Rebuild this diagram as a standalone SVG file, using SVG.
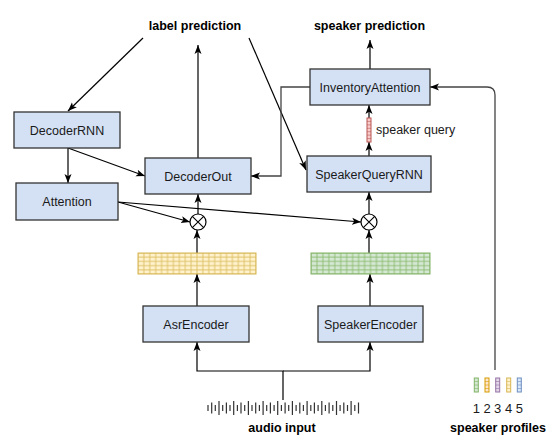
<svg xmlns="http://www.w3.org/2000/svg" width="555" height="442" viewBox="0 0 555 442">
<style>
.box{fill:#d4e1f5;stroke:#333;stroke-width:1.3}
.lbl{font-family:"Liberation Sans",Arial,sans-serif;font-size:12.5px;fill:#1a1a1a;text-anchor:middle}
.bold{font-family:"Liberation Sans",Arial,sans-serif;font-size:12.5px;font-weight:bold;fill:#000;text-anchor:middle}
.c{fill:none;stroke:#000;stroke-width:1.2}
.g{fill:none;stroke:#444;stroke-width:1.3}
.a{marker-end:url(#arr)}
.mul{fill:#fff;stroke:#000;stroke-width:1.2}
</style>
<defs>
<marker id="arr" markerUnits="userSpaceOnUse" markerWidth="10" markerHeight="8" refX="9" refY="4" orient="auto">
<path d="M0,0.5 L9,4 L0,7.5 L2.2,4 Z" fill="#000"/>
</marker>
<pattern id="py" patternUnits="userSpaceOnUse" x="138" y="253" width="5.9" height="4.2">
<rect x="0" y="0" width="5.9" height="4.2" fill="#fff2cc" stroke="#dcbf63" stroke-width="0.9"/>
</pattern>
<pattern id="pg" patternUnits="userSpaceOnUse" x="311" y="253" width="5.95" height="4.2">
<rect x="0" y="0" width="5.95" height="4.2" fill="#d5e8d4" stroke="#8cbb70" stroke-width="0.9"/>
</pattern>
</defs>
<rect width="555" height="442" fill="#fff"/>

<g id="connectors">
<line class="c a" x1="143" y1="38" x2="68" y2="111"/>
<line class="c a" x1="198" y1="158" x2="198" y2="45"/>
<line class="c a" x1="249" y1="38" x2="306" y2="170"/>
<line class="c a" x1="68" y1="148" x2="68" y2="183"/>
<line class="c a" x1="68" y1="148" x2="145" y2="176"/>
<line class="c a" x1="118" y1="202" x2="190" y2="222"/>
<line class="c a" x1="118" y1="202" x2="361" y2="222"/>
<line class="c a" x1="198" y1="214" x2="198" y2="194"/>
<line class="c a" x1="369" y1="214" x2="369" y2="192"/>
<line class="c a" x1="197" y1="253" x2="197" y2="230"/>
<line class="c a" x1="369" y1="253" x2="369" y2="230"/>
<line class="c a" x1="197" y1="306" x2="197" y2="274"/>
<line class="c a" x1="370" y1="306" x2="370" y2="274"/>
<path class="c a" d="M283 400V371H197V342"/>
<path class="c a" d="M283 371H370V342"/>
<line class="c a" x1="369" y1="156" x2="369" y2="142"/>
<line class="c a" x1="369" y1="118" x2="369" y2="105"/>
<line class="c a" x1="370" y1="69" x2="370" y2="40"/>
<path class="g a" d="M310 87H281V176H251"/>
<path class="g a" d="M495 370V95Q495 87 487 87H430"/>
</g>

<g id="label-prediction"><text class="bold" x="195" y="30">label prediction</text></g>
<g id="speaker-prediction"><text class="bold" x="369.5" y="30">speaker prediction</text></g>

<g id="DecoderRNN"><rect class="box" x="14" y="112" width="106" height="36"/><text class="lbl" x="67" y="134.5">DecoderRNN</text></g>
<g id="Attention"><rect class="box" x="16" y="183" width="102" height="37"/><text class="lbl" x="67" y="206">Attention</text></g>
<g id="DecoderOut"><rect class="box" x="145" y="158" width="106" height="36"/><text class="lbl" x="198" y="180.5">DecoderOut</text></g>
<g id="InventoryAttention"><rect class="box" x="310" y="69" width="120" height="36"/><text class="lbl" x="370" y="91.5">InventoryAttention</text></g>
<g id="SpeakerQueryRNN"><rect class="box" x="307" y="156" width="124" height="36"/><text class="lbl" x="369" y="178.5">SpeakerQueryRNN</text></g>
<g id="AsrEncoder"><rect class="box" x="143" y="306" width="106" height="36"/><text class="lbl" x="196" y="328.5">AsrEncoder</text></g>
<g id="SpeakerEncoder"><rect class="box" x="318" y="306" width="105" height="36"/><text class="lbl" x="370.5" y="328.5">SpeakerEncoder</text></g>

<g id="mul-left"><circle class="mul" cx="198" cy="222" r="8"/><path d="M192.3 216.3L203.7 227.7M203.7 216.3L192.3 227.7" stroke="#000" stroke-width="1.1"/></g>
<g id="mul-right"><circle class="mul" cx="369" cy="222" r="8"/><path d="M363.3 216.3L374.7 227.7M374.7 216.3L363.3 227.7" stroke="#000" stroke-width="1.1"/></g>

<g id="asr-features"><rect x="138" y="253" width="118" height="21" fill="url(#py)" stroke="#d6b656" stroke-width="1"/></g>
<g id="speaker-features"><rect x="311" y="253" width="119" height="21" fill="url(#pg)" stroke="#82b366" stroke-width="1"/></g>

<g id="speaker-query">
<rect x="367" y="118" width="4" height="24" fill="#f8cecc" stroke="#b85450" stroke-width="1"/>
<path d="M367 121.4h4M367 124.9h4M367 128.3h4M367 131.7h4M367 135.1h4M367 138.6h4" stroke="#b85450" stroke-width="0.6"/>
<text class="lbl" x="376" y="134" style="text-anchor:start">speaker query</text>
</g>

<g id="audio-input">
<path stroke="#333" stroke-width="1.2" fill="none" d="M208 405V411M211.7 402.5V413.5M215.3 405V411M219 401V415M222.7 405V411M226.4 402.5V413.5M230 405V411M233.7 401V415M237.4 405V411M241 402.5V413.5M244.7 405V411M248.4 401V415M252 405V411M255.7 402.5V413.5M259.4 405V411M263.1 401V415M266.7 405V411M270.4 402.5V413.5M274.1 405V411M277.7 401V415M281.4 405V411M285.1 402.5V413.5M288.7 405V411M292.4 401V415M296.1 405V411M299.8 402.5V413.5M303.4 405V411M307.1 401V415M310.8 405V411M314.4 402.5V413.5M318.1 405V411M321.8 401V415M325.4 405V411M329.1 402.5V413.5M332.8 405V411M336.5 401V415M340.1 405V411M343.8 402.5V413.5M347.5 405V411M351.1 401V415M354.8 405V411M358.5 402.5V413.5"/>
<text class="bold" x="282" y="432">audio input</text>
</g>

<g id="speaker-profiles">
<rect x="474.3" y="378" width="4" height="14" fill="#d5e8d4" stroke="#82b366"/>
<rect x="485" y="378" width="4" height="14" fill="#ffe6cc" stroke="#d79b00"/>
<rect x="495.7" y="378" width="4" height="14" fill="#e1d5e7" stroke="#9673a6"/>
<rect x="506.7" y="378" width="4" height="14" fill="#fff2cc" stroke="#d6b656"/>
<rect x="517.3" y="378" width="4" height="14" fill="#dae8fc" stroke="#6c8ebf"/>
<path d="M474.3 381.5h4M474.3 385h4M474.3 388.5h4" stroke="#82b366" stroke-width="0.6"/>
<path d="M485 381.5h4M485 385h4M485 388.5h4" stroke="#d79b00" stroke-width="0.6"/>
<path d="M495.7 381.5h4M495.7 385h4M495.7 388.5h4" stroke="#9673a6" stroke-width="0.6"/>
<path d="M506.7 381.5h4M506.7 385h4M506.7 388.5h4" stroke="#d6b656" stroke-width="0.6"/>
<path d="M517.3 381.5h4M517.3 385h4M517.3 388.5h4" stroke="#6c8ebf" stroke-width="0.6"/>
<text class="lbl" x="476.3" y="413" style="font-size:13px">1</text>
<text class="lbl" x="487" y="413" style="font-size:13px">2</text>
<text class="lbl" x="497.7" y="413" style="font-size:13px">3</text>
<text class="lbl" x="508.7" y="413" style="font-size:13px">4</text>
<text class="lbl" x="519.3" y="413" style="font-size:13px">5</text>
<text class="bold" x="498" y="432">speaker profiles</text>
</g>
</svg>
